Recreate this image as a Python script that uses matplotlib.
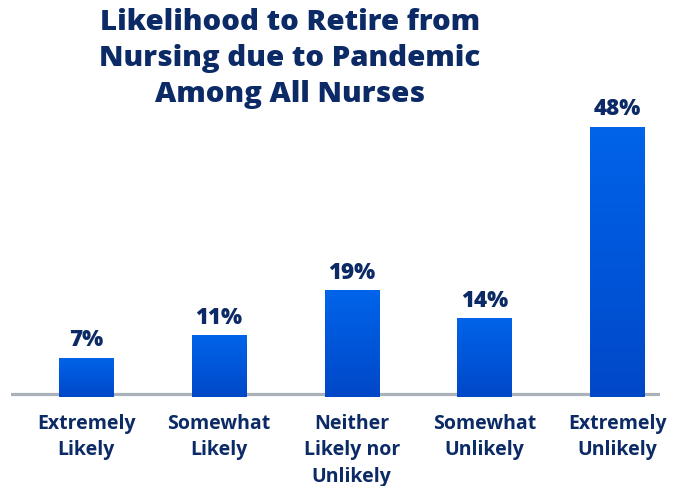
import numpy as np
import matplotlib.pyplot as plt
from matplotlib.colors import LinearSegmentedColormap

plt.rcParams['font.family'] = ['Open Sans', 'DejaVu Sans']

# datos
categorias = ["Extremely\nLikely", "Somewhat\nLikely", "Neither\nLikely nor\nUnlikely",
              "Somewhat\nUnlikely", "Extremely\nUnlikely"]
valores = [7, 11, 19, 14, 48]
etiquetas = ["7%", "11%", "19%", "14%", "48%"]

azul_texto = '#0b2a66'
degradado = LinearSegmentedColormap.from_list('bar', ['#0048c8', '#0064ea'])

fig = plt.figure(figsize=(6.79, 4.86), dpi=100)
ax = fig.add_axes([11/679, 89/486, 649/679, 297/486])

x = np.arange(len(valores))
barras = ax.bar(x, valores, width=0.41, color='none', zorder=3)

# degradado vertical en cada barra
grad = np.linspace(0, 1, 256).reshape(-1, 1)
for b in barras:
    x0, y0 = b.get_x(), b.get_y()
    w, h = b.get_width(), b.get_height()
    im = ax.imshow(grad, cmap=degradado, origin='lower', aspect='auto',
                   extent=[x0, x0 + w, y0, y0 + h], zorder=3)
    im.set_clip_path(b)

ax.axhline(0.6, color='#aab1b9', linewidth=2.3, zorder=1)

for xi, v, t in zip(x, valores, etiquetas):
    ax.annotate(t, (xi, v), xytext=(0, 4), textcoords='offset points',
                ha='center', va='bottom', fontsize=16, fontweight=800, color=azul_texto)

ax.set_xlim(-0.565, 4.32)
ax.set_ylim(0, 52.8)
ax.set_xticks(x)
ax.set_xticklabels(categorias, fontsize=14, fontweight=700, color=azul_texto, linespacing=1.45)
ax.tick_params(axis='x', length=0, pad=12)
ax.set_yticks([])
for s in ax.spines.values():
    s.set_visible(False)

fig.text(290/679, 1 - 8/486, "Likelihood to Retire from\nNursing due to Pandemic\nAmong All Nurses",
         ha='center', va='top', fontsize=21.2, fontweight=800, color=azul_texto, linespacing=1.32)

fig.savefig('out.png', dpi=100)
